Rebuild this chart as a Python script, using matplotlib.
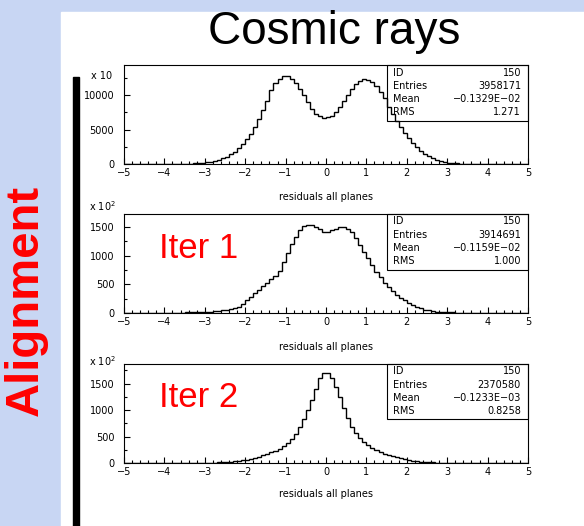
import numpy as np
import matplotlib
matplotlib.use("Agg")
import matplotlib.pyplot as plt
from matplotlib.patches import Rectangle
from matplotlib.ticker import MultipleLocator

W, H = 584, 526

# bin edges: 100 bins of 0.1 from -5 to 5
edges = np.round(np.linspace(-5, 5, 101), 2)

# panel 1, counts in units of 10
cosmic = [10, 10, 10, 15, 15, 15, 20, 20, 25, 25, 30, 30, 35, 40, 45,
          55, 70, 100, 140, 200, 280, 360, 450, 580, 800,
          1050, 1400, 1800, 2300, 2900, 3600, 4400, 5300, 6500, 7800,
          9200, 10700, 11700, 12300, 12800, 12700, 12300, 11700, 10900, 10000,
          9000, 8000, 7300, 6900, 6700, 6750, 7000, 7500, 8200, 9100,
          10000, 10900, 11600, 12000, 12300, 12200, 11900, 11300, 10500, 9500,
          8300, 7200, 6200, 5300, 4500, 3700, 3000, 2400, 1900, 1500,
          1150, 850, 620, 440, 300, 200, 140, 100, 70, 55,
          45, 40, 35, 30, 30, 25, 25, 20, 20, 15, 15, 15, 10, 10, 10]

# panel 2, counts in units of 100
iter1 = [0] * 13 + [
    5, 8, 10, 12, 14, 16, 18, 20, 25, 30, 38, 45, 55, 65, 80, 110, 160,
    220, 280, 340, 400, 470, 530, 590, 650, 740, 880, 1050, 1200, 1330,
    1440, 1520, 1540, 1530, 1500, 1460, 1410, 1420, 1450, 1470, 1490, 1500,
    1470, 1410, 1310, 1190, 1070, 950, 840, 720, 620, 530, 450, 380, 320,
    270, 220, 180, 140, 110, 85, 60, 45, 32, 22, 16, 13, 11, 9, 8, 7, 6,
    5, 4] + [0] * 13

# panel 3, counts in units of 100
iter2 = [0] * 21 + [
    5, 8, 10, 14, 18, 25, 32, 42, 55, 65, 80, 100, 120, 145, 170, 200,
    235, 270, 320, 380, 450, 540, 670, 830, 1000, 1180, 1400, 1600, 1690,
    1690, 1600, 1440, 1250, 1040, 850, 680, 560, 470, 400, 340, 290, 245,
    205, 175, 150, 125, 105, 85, 68, 55, 42, 32, 25, 18, 14, 10, 7, 4] + [0] * 21

stats = [
    ("150", "3958171", "\u22120.1329E\u221202", "1.271"),
    ("150", "3914691", "\u22120.1159E\u221202", "1.000"),
    ("150", "2370580", "\u22120.1233E\u221203", "0.8258"),
]
stat_names = ["ID", "Entries", "Mean", "RMS"]
panel_hist = [cosmic, iter1, iter2]
ymax = [14350, 1725, 1868]
ymajor = [5000, 500, 500]
mult = ["x 10", "x 10$^{2}$", "x 10$^{2}$"]
mult_y = [76, 206, 361]
tops = [65, 214, 364]
box_bottom = [121, 270, 419]
iter_labels = [None, "Iter 1", "Iter 2"]
iter_base = [None, 258, 407]
xlabel_y = [197, 347, 494]


def fx(x):
    return x / W


def fy(y):
    return 1 - y / H


fig = plt.figure(figsize=(W / 100, H / 100), dpi=100)
fig.patch.set_facecolor("#c8d6f3")
fig.add_artist(Rectangle((fx(61), 0), fx(W - 61), (H - 12) / H,
                         transform=fig.transFigure, color="white", zorder=0))
fig.add_artist(Rectangle((fx(73), 0), fx(6), (H - 77) / H,
                         transform=fig.transFigure, color="black", zorder=1))

fig.text(fx(334), fy(44), "Cosmic rays", fontsize=33, family="Liberation Sans",
         ha="center", va="baseline")
fig.text(fx(26), fy(300), "Alignment", fontsize=34, family="Liberation Sans",
         weight="bold", color="#ff0000", rotation=90, ha="center", va="center")

small = dict(family="DejaVu Sans", fontsize=7)
left, right = 124, 528
for i in range(3):
    top = tops[i]
    bot = top + 99
    ax = fig.add_axes([fx(left), fy(bot), fx(right - left), 99 / H])
    ax.stairs(panel_hist[i], edges, color="black", lw=1.0)
    ax.set_xlim(-5, 5)
    ax.set_ylim(0, ymax[i])
    ax.xaxis.set_major_locator(MultipleLocator(1))
    ax.xaxis.set_minor_locator(MultipleLocator(0.2))
    ax.yaxis.set_major_locator(MultipleLocator(ymajor[i]))
    ax.yaxis.set_minor_locator(MultipleLocator(ymajor[i] / 2))
    ax.tick_params(which="both", direction="in", top=False, right=False,
                   width=0.8, labelsize=7)
    ax.tick_params(axis="x", pad=3)
    ax.tick_params(axis="y", pad=7)
    ax.tick_params(which="major", length=4)
    ax.tick_params(which="minor", length=2)
    for sp in ax.spines.values():
        sp.set_linewidth(0.8)
    fig.text(fx(102), fy(mult_y[i]), mult[i], ha="center", va="center", **small)
    fig.text(fx(326), fy(xlabel_y[i]), "residuals all planes", ha="center",
             va="center", **small)

    # stats box
    fig.add_artist(Rectangle((fx(387), fy(box_bottom[i])), fx(right - 387),
                             (box_bottom[i] - top) / H, transform=fig.transFigure,
                             fill=False, lw=0.8, ec="black", zorder=5))
    for j in range(4):
        yy = top + 7.5 + 13.3 * j
        fig.text(fx(393), fy(yy), stat_names[j], ha="left", va="center", **small)
        fig.text(fx(521), fy(yy), stats[i][j], ha="right", va="center", **small)

    if iter_labels[i]:
        fig.text(fx(159), fy(iter_base[i]), iter_labels[i], fontsize=25,
                 family="Liberation Sans", color="#ff0000", ha="left",
                 va="baseline")

fig.savefig("out.png", dpi=100)
